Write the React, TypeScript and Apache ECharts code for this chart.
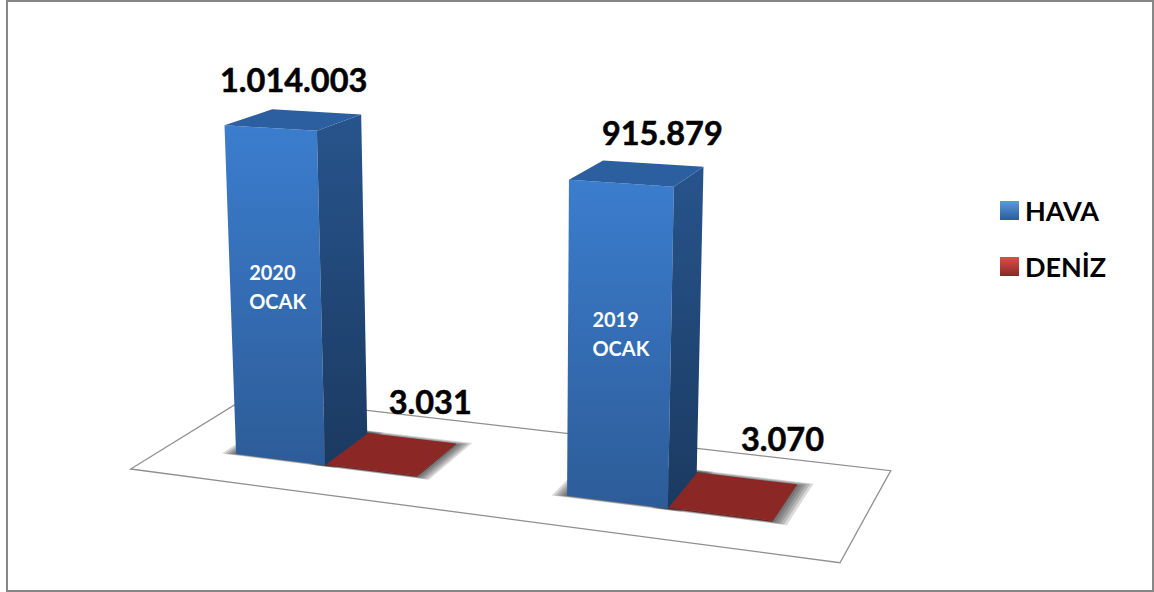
import React, { useEffect, useRef } from "react";
import * as echarts from "echarts";

const categories = ["2020\nOCAK", "2019\nOCAK"];
const havaValues = [1014003, 915879];
const denizValues = [3031, 3070];
const havaLabels = ["1.014.003", "915.879"];
const denizLabels = ["3.031", "3.070"];

const FONT = "Lato";
const GRID = { left: 0, top: 60, width: 1154, height: 397 };
const Y_MAX = 1200000;

// floor plane corners on screen: front-left, front-right, back-right, back-left
const FLOOR = [[130.7, 469], [840, 562.7], [890.7, 470.7], [247.8, 396.7]];
const [[x0, y0], [x1, y1], [x2, y2], [x3, y3]] = FLOOR;
const dx1 = x1 - x2, dx2 = x3 - x2, sx = x0 - x1 + x2 - x3;
const dy1 = y1 - y2, dy2 = y3 - y2, sy = y0 - y1 + y2 - y3;
const den = dx1 * dy2 - dx2 * dy1;
const g = (sx * dy2 - dx2 * sy) / den;
const h = (dx1 * sy - sx * dy1) / den;
const a = x1 - x0 + g * x1, b = x3 - x0 + h * x3;
const d = y1 - y0 + g * y1, e = y3 - y0 + h * y3;

const project = (u: number, v: number) => {
  const w = g * u + h * v + 1;
  return [(a * u + b * v + x0) / w, (d * u + e * v + y0) / w, w];
};
// verticals diverge slightly upward
const VP_X = 519, VP_D = 8020;
const raise = (u: number, v: number, px: number) => {
  const [x, y, w] = project(u, v);
  const H = px / w;
  return [x + ((x - VP_X) / VP_D) * H, y - H];
};

const BAR_U = 0.1405, V_NEAR = 0.303, V_FAR = 0.712;
const SHADOW_STEPS = [0.2, 0.4, 0.6, 0.8, 1];

const vGrad = (top: string, bottom: string) =>
  new echarts.graphic.LinearGradient(0, 0, 0, 1, [
    { offset: 0, color: top },
    { offset: 1, color: bottom },
  ]);

const xy = (p: number[]) => [p[0], p[1]];
const poly = (pts: number[][], style: any) => ({ type: "polygon", shape: { points: pts }, style });
const centerU = (api: any, cat: number) => (api.coord([cat, 0])[0] - GRID.left) / GRID.width;

// soft floor shadow: stacked, slightly grown footprints
const softShadow = (params: any, api: any) => {
  const uc = centerU(api, api.value(0));
  const side = api.value(1);
  const uA = side < 0 ? uc - BAR_U : uc;
  const uB = side < 0 ? uc : uc + BAR_U;
  return {
    type: "group",
    children: SHADOW_STEPS.map((s) => {
      const A = uA - 0.02 * s, B = uB + 0.02 * s;
      const N = V_NEAR - 0.016 * s, F = V_FAR + 0.04 * s;
      return poly(
        [xy(project(A, N)), xy(project(B, N)), xy(project(B, F)), xy(project(A, F))],
        { fill: "rgba(30,30,30,0.17)" },
      );
    }),
  };
};

const box = (
  params: any, api: any, side: -1 | 1, texts: string[],
  pal: { front: any; right: any; top: any }, nudges: number[][], inner: number[][] | null,
) => {
  const cat = api.value(0);
  const val = api.value(1);
  const uc = centerU(api, cat);
  const px = api.size([0, val])[1];
  const uA = side < 0 ? uc - BAR_U : uc;
  const uB = side < 0 ? uc : uc + BAR_U;
  const fl = project(uA, V_NEAR), fr = project(uB, V_NEAR);
  const br = project(uB, V_FAR);
  const tfl = raise(uA, V_NEAR, px), tfr = raise(uB, V_NEAR, px);
  const tbr = raise(uB, V_FAR, px), tbl = raise(uA, V_FAR, px);
  const top = [tfl, tfr, tbr, tbl];
  const cx = (tfl[0] + tfr[0] + tbr[0] + tbl[0]) / 4;
  const cy = (tfl[1] + tfr[1] + tbr[1] + tbl[1]) / 4;
  const n = nudges[cat];
  const children: any[] = [
    poly([tfl, tfr, xy(fr), xy(fl)], { fill: pal.front }),
    poly([tfr, tbr, xy(br), xy(fr)], { fill: pal.right }),
    poly(top, { fill: pal.top }),
    {
      type: "text",
      style: {
        text: texts[cat], x: cx + n[0], y: cy + n[1], fill: "#000000",
        stroke: "#000000", lineWidth: 0.5,
        font: `bold 32.5px ${FONT}`, align: "center", verticalAlign: "middle",
      },
    },
  ];
  if (inner) {
    const mx = (tfl[0] + tfr[0] + fr[0] + fl[0]) / 4;
    const my = (tfl[1] + tfr[1] + fr[1] + fl[1]) / 4;
    children.push({
      type: "text",
      style: {
        text: categories[cat], x: mx + inner[cat][0], y: my + inner[cat][1], fill: "#ffffff",
        font: `bold 20px ${FONT}`, lineHeight: 29, align: "left", verticalAlign: "middle",
      },
    });
  }
  return { type: "group", children };
};

const HAVA_PAL = {
  front: vGrad("#3b7dce", "#2d5c98"),
  right: vGrad("#27548c", "#1b3a61"),
  top: "#2b5f9f",
};
const DENIZ_PAL = { front: "#6f1f1d", right: "#6f1f1d", top: "#8b2826" };

export default function App() {
  const ref = useRef<HTMLDivElement>(null);
  useEffect(() => {
    document.body.style.margin = "0";
    const chart = echarts.init(ref.current!, null, { renderer: "svg" });
    chart.setOption({
      animation: false,
      backgroundColor: "#ffffff",
      grid: GRID,
      xAxis: { type: "category", data: categories, show: false },
      yAxis: { type: "value", min: 0, max: Y_MAX, show: false },
      legend: {
        orient: "vertical",
        left: 995,
        top: 192,
        itemWidth: 19,
        itemHeight: 19,
        itemGap: 29,
        icon: "rect",
        data: ["HAVA", "DENİZ"],
        textStyle: {
          fontFamily: FONT, fontWeight: "bold", fontSize: 27, color: "#000000",
          padding: [0, 0, 0, 1],
        },
      },
      graphic: [
        {
          type: "rect", z: -1, silent: true,
          shape: { x: 7, y: 1, width: 1146, height: 590 },
          style: { fill: "none", stroke: "#878787", lineWidth: 2 },
        },
        {
          type: "polygon", z: -1, silent: true,
          shape: { points: FLOOR },
          style: { fill: "#ffffff", stroke: "#8f8f8f", lineWidth: 1.3 },
        },
      ],
      series: [
        {
          name: "HAVA", type: "custom", z: 3, coordinateSystem: "cartesian2d",
          itemStyle: { color: vGrad("#5b9bd8", "#2a5c9c") },
          data: havaValues.map((v, i) => [i, v]),
          renderItem: (p: any, api: any) =>
            box(p, api, -1, havaLabels, HAVA_PAL, [[0, -40], [25, -41]], [[-26.5, -7], [-27, -9]]),
        },
        {
          name: "DENİZ", type: "custom", z: 2, coordinateSystem: "cartesian2d",
          itemStyle: { color: vGrad("#d9504c", "#8b2826") },
          data: denizValues.map((v, i) => [i, v]),
          renderItem: (p: any, api: any) =>
            box(p, api, 1, denizLabels, DENIZ_PAL, [[39, -53], [49, -58]], null),
        },
        {
          name: "shadow", type: "custom", z: 1, coordinateSystem: "cartesian2d", silent: true,
          data: categories.flatMap((_, i) => [[i, -1], [i, 1]]),
          renderItem: softShadow,
        },
      ],
    });
    return () => chart.dispose();
  }, []);
  return <div ref={ref} style={{ width: 1154, height: 592 }} />;
}
